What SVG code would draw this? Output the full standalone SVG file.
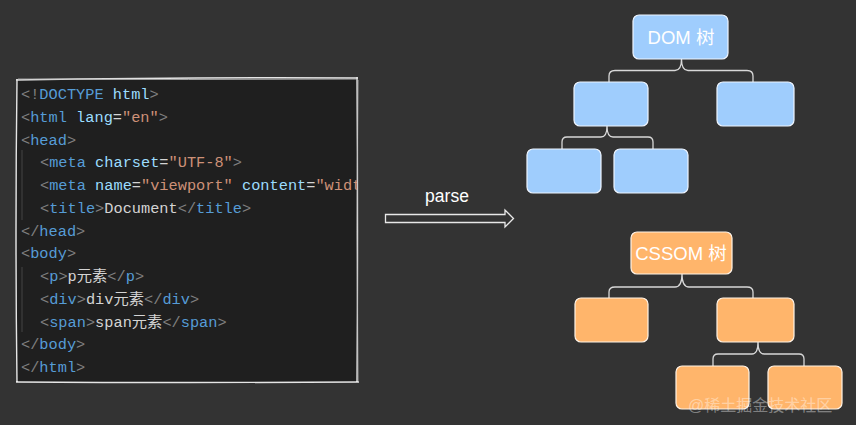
<svg xmlns="http://www.w3.org/2000/svg" width="856" height="425" viewBox="0 0 856 425">
<style>
.code{font-family:"Liberation Mono","DejaVu Sans Mono","Noto Sans CJK SC",monospace;font-size:15.3px;fill:#d4d4d4}
.p{fill:#808080}.t{fill:#569cd6}.a{fill:#9cdcfe}.s{fill:#ce9178}.w{fill:#d4d4d4}
.dom rect{fill:#9fcdfd;stroke:#eef5ff;stroke-width:1.2}
.css rect{fill:#ffb56b;stroke:#fff3e6;stroke-width:1.2}
.lbl{font-family:"Liberation Sans","Noto Sans CJK SC",sans-serif;font-size:18.5px;fill:#ffffff;text-anchor:middle}
.conn path{fill:none;stroke:#d8d8d8;stroke-width:1.3}
.guide{stroke:#444;stroke-width:1}
</style>
<defs><clipPath id="cb"><rect x="17" y="80" width="340" height="302"/></clipPath></defs>
<rect width="856" height="425" fill="#333333"/>
<g id="code">
<rect x="17" y="80" width="340" height="302" fill="#1f1f1f"/>
<path d="M16,80 Q190,77 358,78 M357,77 Q358,230 357,383 M359,382 Q190,383 16,382 M17,383 Q15,230 17,79" fill="none" stroke="#e6e6e6" stroke-width="1.4"/>
<path d="M18,79 Q190,80 356,79 M358,80 Q356,230 358,381" fill="none" stroke="#bbb" stroke-width="0.8"/>
<line class="guide" x1="22" y1="150" x2="22" y2="220"/>
<line class="guide" x1="22" y1="267" x2="22" y2="332"/>
<g clip-path="url(#cb)" class="code">
<text x="21" y="99"><tspan class="p">&lt;!</tspan><tspan class="t">DOCTYPE</tspan> <tspan class="a">html</tspan><tspan class="p">&gt;</tspan></text>
<text x="21" y="121.75"><tspan class="p">&lt;</tspan><tspan class="t">html</tspan> <tspan class="a">lang</tspan><tspan class="w">=</tspan><tspan class="s">"en"</tspan><tspan class="p">&gt;</tspan></text>
<text x="21" y="144.5"><tspan class="p">&lt;</tspan><tspan class="t">head</tspan><tspan class="p">&gt;</tspan></text>
<text x="40" y="167.25"><tspan class="p">&lt;</tspan><tspan class="t">meta</tspan> <tspan class="a">charset</tspan><tspan class="w">=</tspan><tspan class="s">"UTF-8"</tspan><tspan class="p">&gt;</tspan></text>
<text x="40" y="190"><tspan class="p">&lt;</tspan><tspan class="t">meta</tspan> <tspan class="a">name</tspan><tspan class="w">=</tspan><tspan class="s">"viewport"</tspan> <tspan class="a">content</tspan><tspan class="w">=</tspan><tspan class="s">"widt</tspan></text>
<text x="40" y="212.75"><tspan class="p">&lt;</tspan><tspan class="t">title</tspan><tspan class="p">&gt;</tspan><tspan class="w">Document</tspan><tspan class="p">&lt;/</tspan><tspan class="t">title</tspan><tspan class="p">&gt;</tspan></text>
<text x="21" y="235.5"><tspan class="p">&lt;/</tspan><tspan class="t">head</tspan><tspan class="p">&gt;</tspan></text>
<text x="21" y="258.25"><tspan class="p">&lt;</tspan><tspan class="t">body</tspan><tspan class="p">&gt;</tspan></text>
<text x="40" y="281"><tspan class="p">&lt;</tspan><tspan class="t">p</tspan><tspan class="p">&gt;</tspan><tspan class="w">p元素</tspan><tspan class="p">&lt;/</tspan><tspan class="t">p</tspan><tspan class="p">&gt;</tspan></text>
<text x="40" y="303.75"><tspan class="p">&lt;</tspan><tspan class="t">div</tspan><tspan class="p">&gt;</tspan><tspan class="w">div元素</tspan><tspan class="p">&lt;/</tspan><tspan class="t">div</tspan><tspan class="p">&gt;</tspan></text>
<text x="40" y="326.5"><tspan class="p">&lt;</tspan><tspan class="t">span</tspan><tspan class="p">&gt;</tspan><tspan class="w">span元素</tspan><tspan class="p">&lt;/</tspan><tspan class="t">span</tspan><tspan class="p">&gt;</tspan></text>
<text x="21" y="349.25"><tspan class="p">&lt;/</tspan><tspan class="t">body</tspan><tspan class="p">&gt;</tspan></text>
<text x="21" y="372"><tspan class="p">&lt;/</tspan><tspan class="t">html</tspan><tspan class="p">&gt;</tspan></text>
</g>
</g>
<g id="parse">
<text x="447" y="202" font-family="Liberation Sans, sans-serif" font-size="17.5" fill="#ffffff" text-anchor="middle">parse</text>
<path d="M385.5,214.5 H505 V210 L513.5,218.5 L505,227 V222.5 H385.5 Z" fill="none" stroke="#e8e8e8" stroke-width="1.3"/>
</g>
<g class="conn" id="connectors">
<path d="M681.5,59 Q681.5,70.5 675,70.5 H615 Q609,70.5 609,76 V82 M681.5,59 Q681.5,70.5 688,70.5 H747 Q753,70.5 753,76 V82"/>
<path d="M607,126 Q607,137 601,137 H567 Q562,137 562,142 V149 M607,126 Q607,137 613,137 H648 Q653,137 653,142 V149"/>
<path d="M682,274 Q682,287 675,287 H615 Q609,287 609,292 V298 M682,274 Q682,287 689,287 H747 Q753,287 753,292 V298"/>
<path d="M758,342 Q758,354 752,354 H718 Q713,354 713,359 V366 M758,342 Q758,354 764,354 H799 Q804,354 804,359 V366"/>
</g>
<g id="dom" class="dom">
<g id="dom-root"><rect x="633" y="15" width="95" height="44" rx="6"/><text class="lbl" x="681" y="44">DOM 树</text></g>
<g id="dom-a"><rect x="574" y="82" width="74" height="44" rx="6"/></g>
<g id="dom-b"><rect x="717" y="82" width="77" height="44" rx="6"/></g>
<g id="dom-a1"><rect x="527" y="149" width="74" height="44" rx="6"/></g>
<g id="dom-a2"><rect x="614" y="149" width="74" height="44" rx="6"/></g>
</g>
<g id="cssom" class="css">
<g id="css-root"><rect x="631" y="232" width="101" height="42" rx="6"/><text class="lbl" x="681" y="260">CSSOM 树</text></g>
<g id="css-a"><rect x="575" y="298" width="73" height="44" rx="6"/></g>
<g id="css-b"><rect x="717" y="298" width="77" height="44" rx="6"/></g>
<g id="css-b1"><rect x="676" y="366" width="73" height="43" rx="6"/></g>
<g id="css-b2"><rect x="768" y="366" width="74" height="43" rx="6"/></g>
</g>
<text x="688" y="411" font-family="Liberation Sans, Noto Sans CJK SC, sans-serif" font-size="16" fill="#ffffff" fill-opacity="0.4">@稀土掘金技术社区</text>
</svg>
